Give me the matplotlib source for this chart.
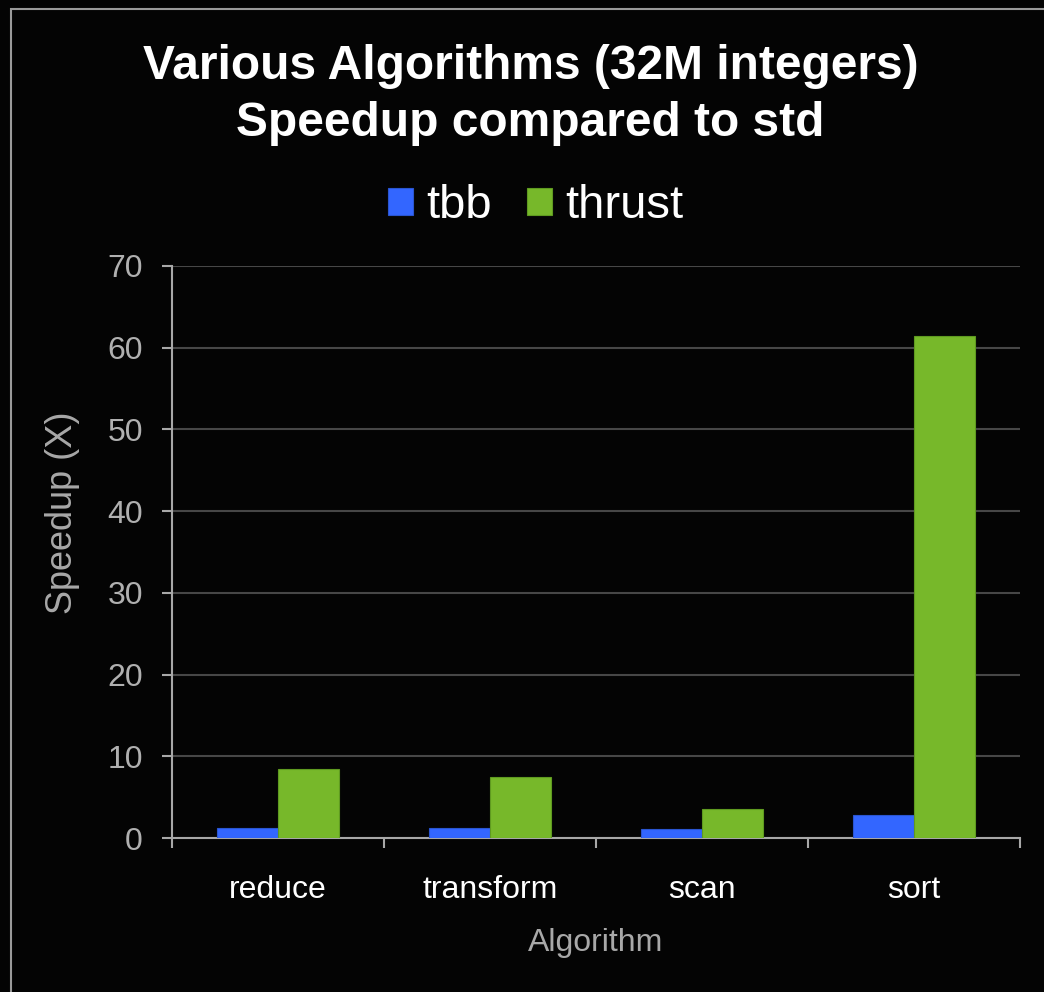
import numpy as np
import matplotlib.pyplot as plt
from matplotlib.patches import Rectangle

plt.rcParams['font.family'] = ['Liberation Sans', 'DejaVu Sans']

algoritmos = ['reduce', 'transform', 'scan', 'sort']
tbb = [1.2, 1.25, 1.05, 2.8]
thrust = [8.4, 7.45, 3.55, 61.4]

cor_tbb = '#3366ff'
cor_thrust = '#77b82a'
fundo = '#040404'

fig = plt.figure(figsize=[10.44, 9.92], dpi=100, facecolor=fundo)
ax = fig.add_axes([172 / 1044, 154 / 992, 848 / 1044, 572 / 992])
ax.set_facecolor(fundo)

x = np.arange(len(algoritmos))
largura = 0.286
ax.bar(x - largura / 2, tbb, largura, color=cor_tbb, edgecolor='#2a55d0',
       linewidth=0.8, label='tbb', zorder=3)
ax.bar(x + largura / 2, thrust, largura, color=cor_thrust, edgecolor='#5f9a20',
       linewidth=0.8, label='thrust', zorder=3)

ax.set_xlim(-0.5, len(algoritmos) - 0.5)
ax.set_ylim(0, 70)
ax.set_yticks(range(0, 71, 10))
ax.yaxis.grid(True, color='#474747', linewidth=1.5, zorder=0)

# ticks nas divisas, rótulos no meio das categorias
ax.set_xticks(np.arange(-0.5, len(algoritmos), 1.0))
ax.set_xticklabels([])
ax.set_xticks(x, minor=True)
ax.set_xticklabels(algoritmos, minor=True)
ax.tick_params(axis='x', which='major', direction='out', length=7,
               width=1.5, color='#a8a8a8')
ax.tick_params(axis='x', which='minor', length=0, pad=27,
               labelsize=23, labelcolor='white')
ax.tick_params(axis='y', direction='out', length=7, width=1.5,
               color='#a8a8a8', labelsize=23, labelcolor='#b0b0b0', pad=14)

for lado in ['top', 'right']:
    ax.spines[lado].set_visible(False)
for lado in ['left', 'bottom']:
    ax.spines[lado].set_color('#a8a8a8')
    ax.spines[lado].set_linewidth(1.5)

ax.set_ylabel('Speedup (X)', fontsize=26, color='#a8a8a8')
ax.yaxis.set_label_coords(-0.108, 0.568)
ax.set_xlabel('Algorithm', fontsize=23, color='#a8a8a8', labelpad=16)

fig.text(0.508, 0.933, 'Various Algorithms (32M integers)', ha='center',
         va='center', fontsize=34.5, fontweight='bold', color='white')
fig.text(0.508, 0.875, 'Speedup compared to std', ha='center',
         va='center', fontsize=34.5, fontweight='bold', color='white')

fig.legend(loc='center', bbox_to_anchor=(0.513, 0.792), ncol=2,
           frameon=False, fontsize=34, labelcolor='white',
           handlelength=0.52, handleheight=0.52, handletextpad=0.28,
           columnspacing=0.75)

# moldura fina no canto superior esquerdo
fig.add_artist(Rectangle((10.5 / 1044, -0.1), 1.2, 1.1 - 9 / 992,
                         transform=fig.transFigure, fill=False,
                         edgecolor='#9a9a9a', linewidth=1.5))

plt.savefig('out.png', dpi=100, facecolor=fundo)
plt.close('all')
